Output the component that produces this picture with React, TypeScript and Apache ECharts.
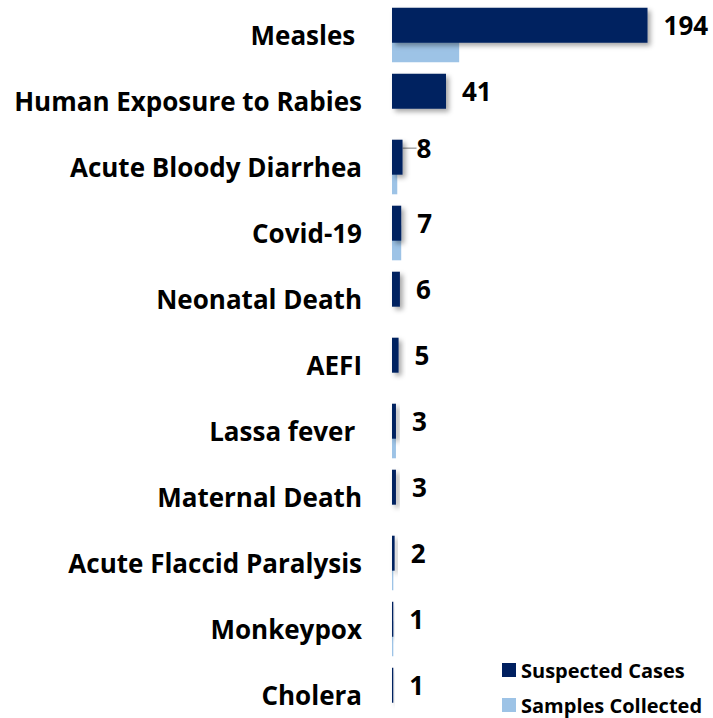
import React, { useEffect, useRef } from "react";
import * as echarts from "echarts";

const categories = [
  "Measles ",
  "Human Exposure to Rabies",
  "Acute Bloody Diarrhea",
  "Covid-19",
  "Neonatal Death",
  "AEFI",
  "Lassa fever ",
  "Maternal Death",
  "Acute Flaccid Paralysis",
  "Monkeypox",
  "Cholera",
];
const suspectedCases = [194, 41, 8, 7, 6, 5, 3, 3, 2, 1, 1];
const samplesCollected = [51, 0, 4, 7, 0, 0, 3, 0, 1, 1, 0];

const FONT = "'Open Sans', 'Noto Sans', sans-serif";

export default function App() {
  const ref = useRef<HTMLDivElement>(null);
  useEffect(() => {
    document.body.style.margin = "0";
    document.body.style.overflow = "hidden";
    const chart = echarts.init(ref.current!, null, { renderer: "svg" });
    chart.setOption({
      animation: false,
      backgroundColor: "#ffffff",
      grid: { left: 392, top: 2, width: 270, height: 726, containLabel: false },
      legend: {
        orient: "vertical",
        left: 497,
        top: 655,
        itemWidth: 14,
        itemHeight: 14,
        itemGap: 15,
        icon: "rect",
        textStyle: { fontFamily: FONT, fontWeight: "bold", fontSize: 20, color: "#000" },
        data: ["Suspected Cases", "Samples Collected"],
      },
      xAxis: {
        type: "value",
        min: 0,
        max: 205,
        show: false,
      },
      yAxis: {
        type: "category",
        inverse: true,
        data: categories,
        axisLine: { show: false },
        axisTick: { show: false },
        axisLabel: {
          fontFamily: FONT,
          fontWeight: "bold",
          fontSize: 26,
          color: "#000",
          margin: 30,
        },
      },
      series: [
        {
          name: "Suspected Cases",
          type: "bar",
          data: suspectedCases.map((v, i) =>
            i === 2
              ? { value: v, labelLine: { show: true, lineStyle: { color: "#a6a6a6", width: 1.5 } } }
              : { value: v }
          ),
          barWidth: 35,
          barGap: "-44%",
          z: 3,
          itemStyle: {
            color: "#002060",
            shadowBlur: 5,
            shadowOffsetX: 3,
            shadowOffsetY: 3,
            shadowColor: "rgba(0,0,0,0.35)",
          },
          label: {
            show: true,
            position: "right",
            distance: 16,
            fontFamily: FONT,
            fontWeight: "bold",
            fontSize: 26,
            color: "#000",
          },
          labelLayout: (p: any) => (p.dataIndex === 2 ? { dy: -9, dx: -2 } : {}),
          labelLine: { show: false },
        },
        {
          name: "Samples Collected",
          type: "bar",
          data: samplesCollected,
          barWidth: 35,
          z: 2,
          itemStyle: { color: "#9DC3E6" },
        },
      ],
    });
    return () => chart.dispose();
  }, []);
  return <div ref={ref} style={{ width: 713, height: 740 }} />;
}
